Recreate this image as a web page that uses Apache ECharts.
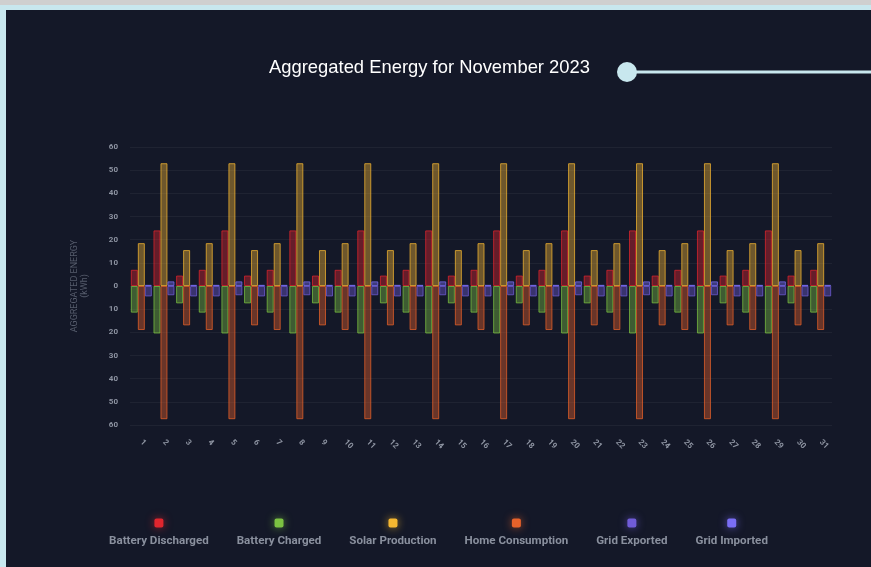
<!DOCTYPE html>
<html>
<head>
<meta charset="utf-8">
<script src="https://cdn.jsdelivr.net/npm/echarts@6/dist/echarts.min.js"></script>
<style>
html,body{margin:0;padding:0;width:871px;height:567px;overflow:hidden;background:#c8e7ee;}
#strip{position:absolute;left:0;top:0;width:871px;height:5px;background:#cfcfcf;}
#panel{position:absolute;left:6px;top:10px;right:0;bottom:0;background:#141828;}
#chart{position:absolute;left:0;top:0;width:871px;height:567px;}
</style>
</head>
<body>
<div id="strip"></div>
<div id="panel"></div>
<div id="chart"></div>
<script>
const days = ['1','2','3','4','5','6','7','8','9','10','11','12','13','14','15','16','17','18','19','20','21','22','23','24','25','26','27','28','29','30','31'];
const batteryDischarged = [7,24,4.5, 7,24,4.5, 7,24,4.5, 7,24,4.5, 7,24,4.5, 7,24,4.5, 7,24,4.5, 7,24,4.5, 7,24,4.5, 7,24,4.5, 7];
const batteryCharged = [-11.5,-20.5,-7.5, -11.5,-20.5,-7.5, -11.5,-20.5,-7.5, -11.5,-20.5,-7.5, -11.5,-20.5,-7.5, -11.5,-20.5,-7.5, -11.5,-20.5,-7.5, -11.5,-20.5,-7.5, -11.5,-20.5,-7.5, -11.5,-20.5,-7.5, -11.5];
const solarProduction = [18.5,53,15.5, 18.5,53,15.5, 18.5,53,15.5, 18.5,53,15.5, 18.5,53,15.5, 18.5,53,15.5, 18.5,53,15.5, 18.5,53,15.5, 18.5,53,15.5, 18.5,53,15.5, 18.5];
const homeConsumption = [-19,-57.5,-17, -19,-57.5,-17, -19,-57.5,-17, -19,-57.5,-17, -19,-57.5,-17, -19,-57.5,-17, -19,-57.5,-17, -19,-57.5,-17, -19,-57.5,-17, -19,-57.5,-17, -19];
const gridExported = [-4.5,-4,-4.5, -4.5,-4,-4.5, -4.5,-4,-4.5, -4.5,-4,-4.5, -4.5,-4,-4.5, -4.5,-4,-4.5, -4.5,-4,-4.5, -4.5,-4,-4.5, -4.5,-4,-4.5, -4.5,-4,-4.5, -4.5];
const gridImported = [0.5,2,0.5, 0.5,2,0.5, 0.5,2,0.5, 0.5,2,0.5, 0.5,2,0.5, 0.5,2,0.5, 0.5,2,0.5, 0.5,2,0.5, 0.5,2,0.5, 0.5,2,0.5, 0.5];
const yTicks = {min: -60, max: 60, interval: 10};

const seriesDefs = [
  {name:'Battery Discharged', data: batteryDischarged, stack:'battery', rgb:[224,38,46]},
  {name:'Battery Charged', data: batteryCharged, stack:'battery', rgb:[124,194,66]},
  {name:'Solar Production', data: solarProduction, stack:'energy', rgb:[245,183,49]},
  {name:'Home Consumption', data: homeConsumption, stack:'energy', rgb:[232,98,42]},
  {name:'Grid Exported', data: gridExported, stack:'grid', rgb:[112,92,215]},
  {name:'Grid Imported', data: gridImported, stack:'grid', rgb:[122,110,245]}
];
const rgba = (c,a) => `rgba(${c[0]},${c[1]},${c[2]},${a})`;

const rich = {t:{fontFamily:'Roboto',fontSize:11.6,fontWeight:'bold',color:'#8a909e',lineHeight:27}};
seriesDefs.forEach((s,i)=>{
  rich['c'+i] = {width:9,height:9,lineHeight:9,backgroundColor:rgba(s.rgb,1),borderRadius:2,align:'center',
                 shadowColor:rgba(s.rgb,0.7),shadowBlur:8};
});

const chart = echarts.init(document.getElementById('chart'), null, {renderer:'canvas'});
chart.setOption({
  backgroundColor:'transparent',
  animation:false,
  title:{
    text:'Aggregated Energy for November 2023',
    left:269, top:59, padding:0,
    textStyle:{fontFamily:'Liberation Sans',fontSize:18.4,fontWeight:'normal',color:'#ffffff'}
  },
  graphic:[
    {type:'line', shape:{x1:627,y1:72,x2:871,y2:72}, style:{stroke:'#c8e7ee',lineWidth:3}},
    {type:'circle', shape:{cx:627,cy:72,r:10}, style:{fill:'#c8e7ee'}}
  ],
  legend:{
    left:'center', top:517, padding:0, itemGap:22, itemWidth:0, itemHeight:0,
    icon:'rect',
    data: seriesDefs.map(s=>s.name),
    formatter: function(name){
      const i = seriesDefs.findIndex(s=>s.name===name);
      return '{c'+i+'|}\n{t|'+name+'}';
    },
    textStyle:{rich:rich}
  },
  grid:{left:130, right:39, top:147, bottom:142, containLabel:false},
  xAxis:{
    type:'category', data:days,
    axisLine:{show:false}, axisTick:{show:false},
    axisLabel:{rotate:-45, interval:0, margin:16, fontFamily:'Roboto', fontSize:8, fontWeight:'bold', color:'#8e94a2'}
  },
  yAxis:{
    type:'value', min:yTicks.min, max:yTicks.max, interval:yTicks.interval,
    name:'AGGREGATED ENERGY\n(kWh)', nameLocation:'middle', nameRotate:90, nameGap:40,
    nameTextStyle:{fontFamily:'Roboto',fontSize:9,color:'#565c6c',lineHeight:10,align:'center'},
    axisLine:{show:false}, axisTick:{show:false},
    axisLabel:{margin:12, fontFamily:'Roboto', fontSize:8, fontWeight:'bold', color:'#8e94a2',
               formatter:v=>String(Math.abs(v))},
    splitLine:{lineStyle:{color:'rgba(255,255,255,0.05)',width:1}}
  },
  series: seriesDefs.map(s=>({
    name:s.name, type:'bar', stack:s.stack, data:s.data,
    barWidth:7, barGap:'0%',
    itemStyle:{color:rgba(s.rgb,0.4), borderColor:rgba(s.rgb,0.75), borderWidth:1}
  }))
});
</script>
</body>
</html>
